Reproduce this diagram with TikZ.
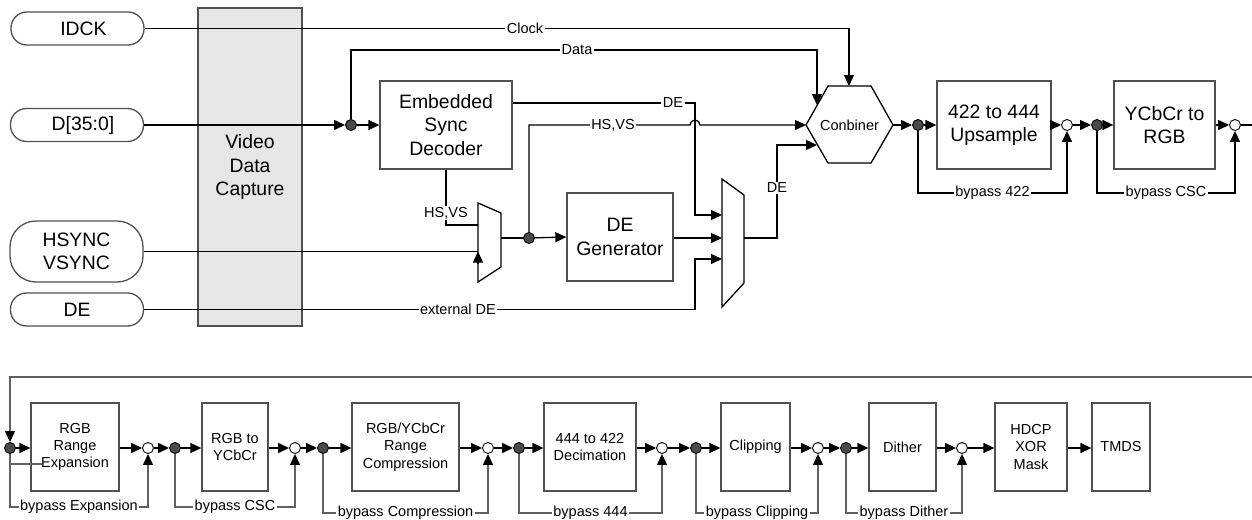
\documentclass[tikz,border=0pt]{standalone}
\usepackage{fontspec}
\setmainfont{Liberation Sans}
\usetikzlibrary{arrows.meta,calc}
\newcommand{\myBig}{\fontsize{19.4}{23.3}\selectfont}
\newcommand{\mySmall}{\fontsize{14.5}{17.4}\selectfont}
\definecolor{boxc}{HTML}{505050}
\definecolor{dotc}{HTML}{4A4A4A}
\definecolor{capfill}{HTML}{E6E6E6}
\definecolor{byc}{HTML}{606060}
\begin{document}
\begin{tikzpicture}[x=1pt,y=-1pt,
  ln/.style={draw=black, line width=1.3pt},
  arr/.style={ln,-{Triangle[length=11pt,width=10pt]}},
  byln/.style={draw=byc, line width=1.3pt},
  byarr/.style={byln,-{Triangle[length=11pt,width=10pt,color=black]}},
  box/.style={draw=boxc, line width=1.3pt, inner sep=0pt, align=center, font=\myBig},
  sbox/.style={draw=boxc, line width=1.3pt, inner sep=0pt, align=center, font=\mySmall, minimum height=88},
  term/.style={draw=boxc, line width=1.3pt, rounded corners=16pt, inner sep=0pt, align=center, font=\myBig, minimum width=133},
  lbl/.style={fill=white, inner sep=1.5pt, font=\mySmall},
  ddot/.style={circle, fill=dotc, draw=black, line width=0.9pt, minimum size=11, inner sep=0pt},
  odot/.style={circle, fill=white, draw=black, line width=0.9pt, minimum size=11, inner sep=0pt},
  mux/.style={draw=black, line width=1.3pt}
]
\useasboundingbox (0,0) rectangle (1252,519);

% ---------- capture block ----------
\node[box, fill=capfill, minimum width=104, minimum height=318] (cap) at (250,167) {Video\\Data\\Capture};

% ---------- terminals ----------
\node[term, minimum height=33] (idck) at (77.5,28.5) {\hspace*{12pt}IDCK};
\node[term, minimum height=33] (dterm) at (77,125) {\hspace*{12pt}D[35:0]};
\node[term, minimum height=61, rounded corners=26pt] (hsync) at (76.5,251.5) {HSYNC\\VSYNC};
\node[term, minimum height=33] (determ) at (77,309.5) {DE};

% ---------- top blocks ----------
\node[box, minimum width=132, minimum height=88] (esd) at (446,125) {Embedded\\Sync\\Decoder};
\node[box, minimum width=106, minimum height=88] (deg) at (620,237) {DE\\Generator};
\node[box, minimum width=114, minimum height=88] (ups) at (994,125) {422 to 444\\Upsample};
\node[box, minimum width=101, minimum height=88] (csc) at (1164.5,125) {YCbCr to\\RGB};

% combiner hexagon
\draw[draw=black, line width=1.3pt] (806,125) -- (828,86) -- (871,86) -- (893,125) -- (871,163) -- (828,163) -- cycle;
\node[font=\mySmall] (comb) at (849.5,125) {Conbiner};
\coordinate (cclk) at (849,86);
\coordinate (cdata) at (817,105);
\coordinate (chs) at (806,125);
\coordinate (cde) at (817,145);
\coordinate (cout) at (893,125);

% muxes
\draw[mux] (478,203) -- (501,213) -- (501,267) -- (478,282) -- cycle;
\draw[mux] (722,179) -- (744,195) -- (744,283) -- (722,307) -- cycle;
\coordinate (m1hs) at (478,225);
\coordinate (m1sy) at (478,251.5);
\coordinate (m1out) at (501,238);
\coordinate (m2a) at (722,215);
\coordinate (m2b) at (722,238);
\coordinate (m2c) at (722,259);
\coordinate (m2out) at (744,238);

% dots top
\node[ddot] (d1) at (351,125) {};
\node[ddot] (d2) at (529,238) {};
\node[ddot] (d3) at (918,125) {};
\node[odot] (o3) at (1067,125) {};
\node[ddot] (d4) at (1097,125) {};
\node[odot] (o4) at (1235,125) {};
\coordinate (topout) at (1252,125);

% ---------- top connectors ----------
\draw[arr] (idck.east) -| (cclk);
\draw[arr] (dterm.east) -- (d1);
\draw[arr] (d1) -- (esd.west);
\draw[arr] (d1.north) |- (817,50) -- (cdata);
\draw[ln] (esd.south) -- (446,225) -- (m1hs);
\draw[ln] (hsync.east) -- (m1sy);
\draw[arr] (478,264) -- (m1sy);
\draw[ln] (m1out) -- (d2);
\draw[arr] (d2) -- (deg.west);
\draw[arr] (d2.north) |- (690,125) arc[start angle=180, end angle=0, radius=5pt] -- (chs);
\draw[arr] (esd.east |- 0,103) -- (695,103) -- (695,215) -- (m2a);
\draw[arr] (deg.east |- m2b) -- (m2b);
\draw[arr] (determ.east) -- (695,309.5) -- (695,259) -- (m2c);
\draw[arr] (m2out) -- (777,238) -- (777,145) -- (cde);
\draw[arr] (cout) -- (d3);
\draw[arr] (d3) -- (ups.west);
\draw[arr] (ups.east) -- (o3);
\draw[arr] (o3) -- (d4);
\draw[arr] (d4) -- (csc.west);
\draw[arr] (csc.east) -- (o4);
\draw[ln] (o4) -- (topout);
\draw[arr] (d3.south) -- (918,193) -| (o3.south);
\draw[arr] (d4.south) -- (1097,193) -| (o4.south);

% top labels
\node[lbl] (lclk) at (525,28.5) {Clock};
\node[lbl] (ldata) at (577,50) {Data};
\node[lbl] (lde1) at (673,103) {DE};
\node[lbl] (lhs1) at (613,125) {HS,VS};
\node[lbl] (lhs2) at (446,213) {HS,VS};
\node[lbl] (lext) at (458,309.5) {external DE};
\node[lbl] (lde2) at (777,188) {DE};
\node[lbl] (lb422) at (992.5,193) {bypass 422};
\node[lbl] (lbcsc) at (1166,193) {bypass CSC};

% ---------- bottom row ----------
\node[sbox, minimum width=88] (b1) at (75,447) {RGB\\Range\\Expansion};
\node[sbox, minimum width=66] (b2) at (235,447) {RGB to\\YCbCr};
\node[sbox, minimum width=107] (b3) at (405.5,447) {RGB/YCbCr\\Range\\Compression};
\node[sbox, minimum width=92] (b4) at (590,447) {444 to 422\\Decimation};
\node[sbox, minimum width=69] (b5) at (755.5,447) {Clipping};
\node[sbox, minimum width=67] (b6) at (902.5,447) {Dither};
\node[sbox, minimum width=72] (b7) at (1031,447) {HDCP\\XOR\\Mask};
\node[sbox, minimum width=58] (b8) at (1121,447) {TMDS};

\node[ddot] (e0) at (10,448) {};
\node[odot] (p1) at (148,448) {};
\node[ddot] (e1) at (175,448) {};
\node[odot] (p2) at (295,448) {};
\node[ddot] (e2) at (323,448) {};
\node[odot] (p3) at (488,448) {};
\node[ddot] (e3) at (519,448) {};
\node[odot] (p4) at (662,448) {};
\node[ddot] (e4) at (696,448) {};
\node[odot] (p5) at (818,448) {};
\node[ddot] (e5) at (846,448) {};
\node[odot] (p6) at (962,448) {};
\coordinate (wrapin) at (1252,377);

\draw[byarr] (wrapin) -| (e0.north);
\draw[arr] (e0) -- (b1.west |- e0);
\draw[arr] (b1.east |- p1) -- (p1);
\draw[arr] (p1) -- (e1);
\draw[arr] (e1) -- (b2.west |- e1);
\draw[arr] (b2.east |- p2) -- (p2);
\draw[arr] (p2) -- (e2);
\draw[arr] (e2) -- (b3.west |- e2);
\draw[arr] (b3.east |- p3) -- (p3);
\draw[arr] (p3) -- (e3);
\draw[arr] (e3) -- (b4.west |- e3);
\draw[arr] (b4.east |- p4) -- (p4);
\draw[arr] (p4) -- (e4);
\draw[arr] (e4) -- (b5.west |- e4);
\draw[arr] (b5.east |- p5) -- (p5);
\draw[arr] (p5) -- (e5);
\draw[arr] (e5) -- (b6.west |- e5);
\draw[arr] (b6.east |- p6) -- (p6);
\draw[arr] (p6) -- (b7.west |- p6);
\draw[arr] (b7.east |- p6) -- (b8.west |- p6);

\draw[byarr] (e0.south) -- (10,507) -| (p1.south);
\draw[byln] (10,464) -- (42,464);
\draw[byarr] (e1.south) -- (175,507) -| (p2.south);
\draw[byarr] (e2.south) -- (323,513) -| (p3.south);
\draw[byarr] (e3.south) -- (519,513) -| (p4.south);
\draw[byarr] (e4.south) -- (696,513) -| (p5.south);
\draw[byarr] (e5.south) -- (846,513) -| (p6.south);

\node[lbl] (lbexp) at (79,507) {bypass Expansion};
\node[lbl] (lbcsc2) at (235,507) {bypass CSC};
\node[lbl] (lbcomp) at (405.5,513) {bypass Compression};
\node[lbl] (lb444) at (590.5,513) {bypass 444};
\node[lbl] (lbclip) at (757,513) {bypass Clipping};
\node[lbl] (lbdith) at (904,513) {bypass Dither};
\end{tikzpicture}
\end{document}
